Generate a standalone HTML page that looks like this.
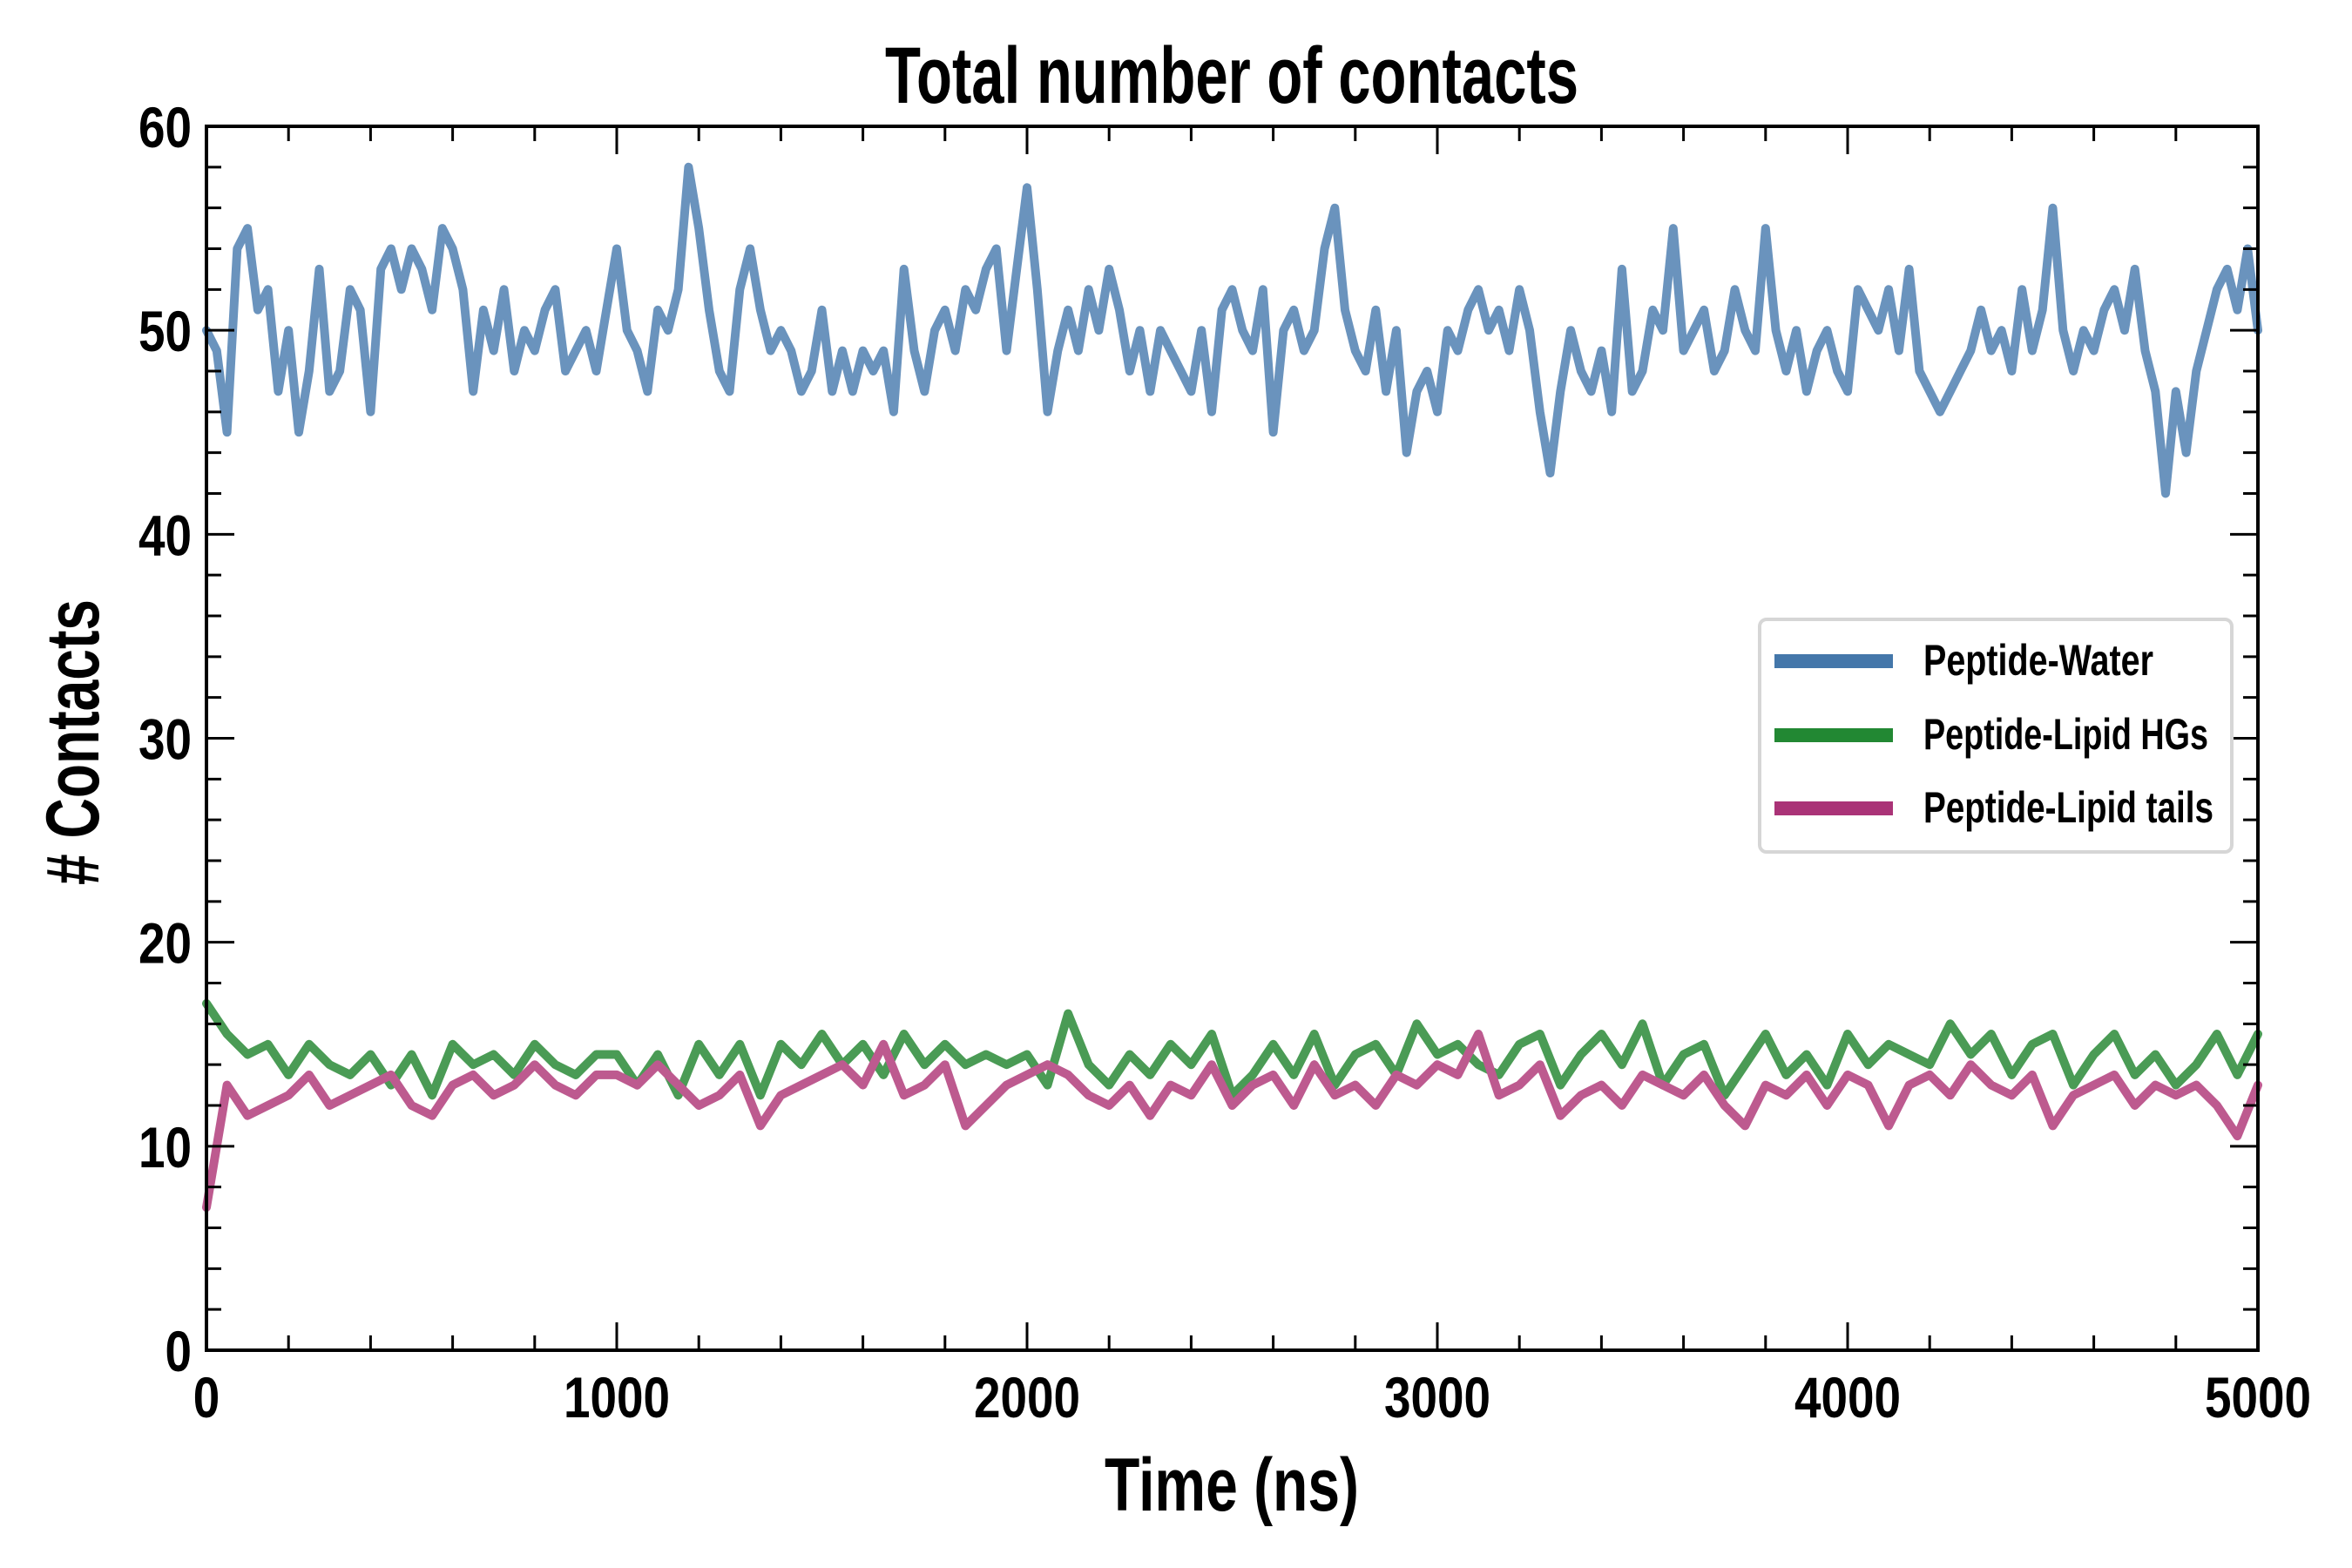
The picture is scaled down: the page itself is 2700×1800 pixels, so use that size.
<!DOCTYPE html>
<html><head><meta charset="utf-8"><style>
html,body{margin:0;padding:0;background:#fff;}
svg{display:block;}
text{font-family:"Liberation Sans",sans-serif;font-weight:bold;fill:#000;}
</style></head><body>
<svg id="chart" width="2700" height="1800" viewBox="0 0 2700 1800" xmlns="http://www.w3.org/2000/svg">
<rect x="0" y="0" width="2700" height="1800" fill="#fff"/>
<text x="1414" y="118" font-size="92" text-anchor="middle" textLength="796" lengthAdjust="spacingAndGlyphs">Total number of contacts</text>
<text x="1414" y="1734" font-size="86" text-anchor="middle" textLength="292" lengthAdjust="spacingAndGlyphs">Time (ns)</text>
<text x="0" y="0" font-size="86" text-anchor="middle" textLength="328" lengthAdjust="spacingAndGlyphs" transform="translate(113,852) rotate(-90)"># Contacts</text>
<g id="marks"></g>
<g id="axes"></g>
<g id="legend">
<rect x="2020" y="711" width="542" height="267" rx="8" fill="#fff" stroke="#d6d6d6" stroke-width="4"/>
<line x1="2037" y1="759" x2="2173" y2="759" stroke="#4477aa" stroke-width="16"/>
<line x1="2037" y1="844" x2="2173" y2="844" stroke="#228833" stroke-width="16"/>
<line x1="2037" y1="928" x2="2173" y2="928" stroke="#aa3377" stroke-width="16"/>
<text x="2208" y="775" font-size="50" textLength="264" lengthAdjust="spacingAndGlyphs">Peptide-Water</text>
<text x="2208" y="860" font-size="50" textLength="327" lengthAdjust="spacingAndGlyphs">Peptide-Lipid HGs</text>
<text x="2208" y="944" font-size="50" textLength="333" lengthAdjust="spacingAndGlyphs">Peptide-Lipid tails</text>
</g>
</svg>
<script>
const xTicks = [0,1000,2000,3000,4000,5000];
const xTickLabels = ["0","1000","2000","3000","4000","5000"];
const yTicks = [0,10,20,30,40,50,60];
const yTickLabels = ["0","10","20","30","40","50","60"];
const waterValues = [50,49,45,54,55,51,52,47,50,45,48,53,47,48,52,51,46,53,54,52,54,53,51,55,54,52,47,51,49,52,48,50,49,51,52,48,49,50,48,51,54,50,49,47,51,50,52,58,55,51,48,47,52,54,51,49,50,49,47,48,51,47,49,47,49,48,49,46,53,49,47,50,51,49,52,51,53,54,49,53,57,52,46,49,51,49,52,50,53,51,48,50,47,50,49,48,47,50,46,51,52,50,49,52,45,50,51,49,50,54,56,51,49,48,51,47,50,44,47,48,46,50,49,51,52,50,51,49,52,50,46,43,47,50,48,47,49,46,53,47,48,51,50,55,49,50,51,48,49,52,50,49,55,50,48,50,47,49,50,48,47,52,51,50,52,49,53,48,47,46,47,48,49,51,49,50,48,52,49,51,56,50,48,50,49,51,52,50,53,49,47,42,47,44,48,50,52,53,51,54,50];
const hgsValues = [17,15.5,14.5,15,13.5,15,14,13.5,14.5,13,14.5,12.5,15,14,14.5,13.5,15,14,13.5,14.5,14.5,13,14.5,12.5,15,13.5,15,12.5,15,14,15.5,14,15,13.5,15.5,14,15,14,14.5,14,14.5,13,16.5,14,13,14.5,13.5,15,14,15.5,12.5,13.5,15,13.5,15.5,13,14.5,15,13.5,16,14.5,15,14,13.5,15,15.5,13,14.5,15.5,14,16,13,14.5,15,12.5,14,15.5,13.5,14.5,13,15.5,14,15,14.5,14,16,14.5,15.5,13.5,15,15.5,13,14.5,15.5,13.5,14.5,13,14,15.5,13.5,15.5];
const tailsValues = [7,13,11.5,12,12.5,13.5,12,12.5,13,13.5,12,11.5,13,13.5,12.5,13,14,13,12.5,13.5,13.5,13,14,13,12,12.5,13.5,11,12.5,13,13.5,14,13,15,12.5,13,14,11,12,13,13.5,14,13.5,12.5,12,13,11.5,13,12.5,14,12,13,13.5,12,14,12.5,13,12,13.5,13,14,13.5,15.5,12.5,13,14,11.5,12.5,13,12,13.5,13,12.5,13.5,12,11,13,12.5,13.5,12,13.5,13,11,13,13.5,12.5,14,13,12.5,13.5,11,12.5,13,13.5,12,13,12.5,13,12,10.5,13];

const L=237,R=2592,T=145,B=1550;
const X0=0,X1=5000,Y0=0,Y1=60;
function sx(v){return L+(v-X0)/(X1-X0)*(R-L);}
function sy(v){return B-(v-Y0)/(Y1-Y0)*(B-T);}
const NS="http://www.w3.org/2000/svg";
function mk(tag,attrs,parent){const e=document.createElementNS(NS,tag);for(const k in attrs)e.setAttribute(k,attrs[k]);parent.appendChild(e);return e;}

const marks=document.getElementById('marks');
function drawSeries(vals,color,name){
  const n=vals.length;
  const pts=vals.map((v,i)=>sx(X0+i*(X1-X0)/(n-1)).toFixed(1)+","+sy(v).toFixed(1)).join(" ");
  const p=mk('polyline',{points:pts,fill:'none',stroke:color,'stroke-width':10,'stroke-linejoin':'round','stroke-linecap':'round'},marks);
  
  
}
drawSeries(waterValues,'#6a93bd','series-peptide-water');
drawSeries(hgsValues,'#4a9b55','series-peptide-lipid-hgs');
drawSeries(tailsValues,'#bd5a8f','series-peptide-lipid-tails');

const axes=document.getElementById('axes');
const frame=mk('rect',{x:L,y:T,width:R-L,height:B-T,fill:'none',stroke:'#000','stroke-width':4},axes);


for(let v=X0;v<=X1;v+=200){
  if(v%1000===0)continue;
  mk('line',{x1:sx(v),y1:B,x2:sx(v),y2:B-17,stroke:'#000','stroke-width':3},axes);
  mk('line',{x1:sx(v),y1:T,x2:sx(v),y2:T+17,stroke:'#000','stroke-width':3},axes);
}
for(let v=Y0;v<=Y1;v+=2){
  if(v%10===0)continue;
  mk('line',{x1:L,y1:sy(v),x2:L+17,y2:sy(v),stroke:'#000','stroke-width':3},axes);
  mk('line',{x1:R,y1:sy(v),x2:R-17,y2:sy(v),stroke:'#000','stroke-width':3},axes);
}
xTicks.forEach((v,i)=>{
  mk('line',{x1:sx(v),y1:B,x2:sx(v),y2:B-32,stroke:'#000','stroke-width':3},axes);
  mk('line',{x1:sx(v),y1:T,x2:sx(v),y2:T+32,stroke:'#000','stroke-width':3},axes);
  const t=mk('text',{x:sx(v),y:1627,'font-size':66,'text-anchor':'middle',textLength:xTickLabels[i].length*30.5,lengthAdjust:'spacingAndGlyphs'},axes);
  t.textContent=xTickLabels[i];
  
  
});
yTicks.forEach((v,i)=>{
  mk('line',{x1:L,y1:sy(v),x2:L+32,y2:sy(v),stroke:'#000','stroke-width':3},axes);
  mk('line',{x1:R,y1:sy(v),x2:R-32,y2:sy(v),stroke:'#000','stroke-width':3},axes);
  const t=mk('text',{x:220,y:sy(v)+24,'font-size':66,'text-anchor':'end',textLength:yTickLabels[i].length*30.5,lengthAdjust:'spacingAndGlyphs'},axes);
  t.textContent=yTickLabels[i];
  
  
});
</script>
</body></html>
